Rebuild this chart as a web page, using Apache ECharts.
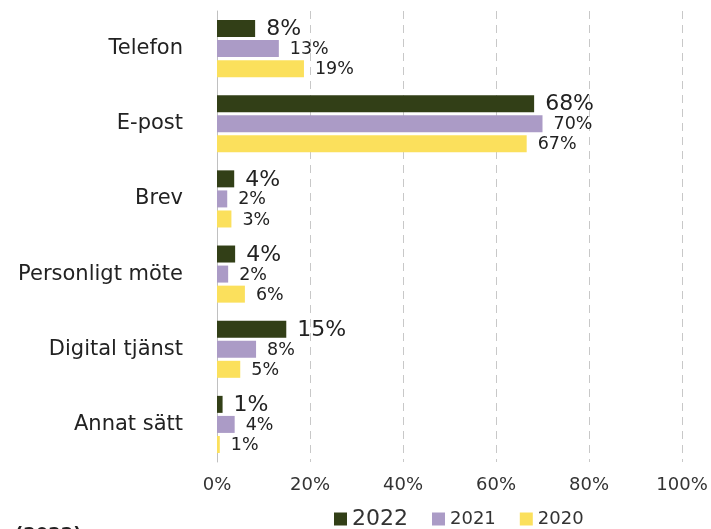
<!DOCTYPE html>
<html>
<head>
<meta charset="utf-8">
<script src="https://cdn.jsdelivr.net/npm/echarts@6/dist/echarts.min.js"></script>
<style>
html,body{margin:0;padding:0;background:#fff;}
#chart{width:711px;height:529px;}
</style>
</head>
<body>
<div id="chart"></div>
<script>
const categories = ['Telefon', 'E-post', 'Brev', 'Personligt möte', 'Digital tjänst', 'Annat sätt'];
const seriesNames = ['2022', '2021', '2020'];
const values2022 = [8.2, 68.2, 3.7, 3.9, 14.9, 1.2];
const values2021 = [13.3, 70.0, 2.2, 2.4, 8.4, 3.8];
const values2020 = [18.7, 66.6, 3.1, 6.0, 5.0, 0.6];
const xTicks = [0, 20, 40, 60, 80, 100];

const colors = ['#323f17', '#ab9bc6', '#fbe05c'];
const FONT = 'DejaVu Sans';

function mkSeries(name, data, color, labelSize) {
  return {
    name: name,
    type: 'bar',
    data: data,
    barWidth: 17,
    barGap: '18%',
    itemStyle: { color: color },
    label: {
      show: true,
      position: 'right',
      distance: 11,
      offset: [0, 1],
      color: '#222',
      fontFamily: FONT,
      fontSize: labelSize,
      formatter: p => Math.round(p.value) + '%'
    }
  };
}

const chart = echarts.init(document.getElementById('chart'), null, { renderer: 'canvas' });
chart.setOption({
  animation: false,
  backgroundColor: '#fff',
  grid: { left: 217, right: 29, top: 11, bottom: 67, containLabel: false },
  xAxis: {
    type: 'value',
    min: xTicks[0],
    max: xTicks[xTicks.length - 1],
    interval: 20,
    axisLine: { show: false },
    axisTick: { show: false },
    axisLabel: {
      formatter: '{value}%',
      color: '#333',
      fontFamily: FONT,
      fontSize: 18,
      margin: 14
    },
    splitLine: {
      show: true,
      lineStyle: { color: '#c8c8c8', type: [8, 6], width: 1 }
    }
  },
  yAxis: {
    type: 'category',
    data: categories,
    inverse: true,
    axisLine: { show: true, lineStyle: { color: '#c0c0c0', width: 1 } },
    axisTick: { show: false },
    axisLabel: {
      color: '#222',
      fontFamily: FONT,
      fontSize: 21,
      margin: 34
    }
  },
  legend: {
    left: 329,
    top: 503,
    itemWidth: 13,
    itemHeight: 13,
    itemGap: 24,
    icon: 'rect',
    textStyle: { color: '#333', fontFamily: FONT, fontSize: 18 },
    data: [
      { name: seriesNames[0], textStyle: { fontSize: 22 } },
      { name: seriesNames[1] },
      { name: seriesNames[2] }
    ]
  },
  graphic: [{
    type: 'text',
    left: 15,
    top: 526,
    style: { text: '(2022)', font: 'bold 18px "DejaVu Sans"', fill: '#222' }
  }],
  series: [
    mkSeries(seriesNames[0], values2022, colors[0], 22),
    mkSeries(seriesNames[1], values2021, colors[1], 17.5),
    mkSeries(seriesNames[2], values2020, colors[2], 17.5)
  ]
});
</script>
</body>
</html>
